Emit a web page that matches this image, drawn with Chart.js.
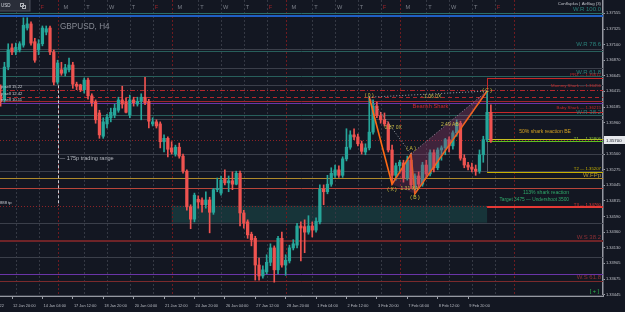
<!DOCTYPE html>
<html>
<head>
<meta charset="utf-8">
<script src="https://cdn.jsdelivr.net/npm/chart.js@4.4.1/dist/chart.umd.min.js"></script>
<style>
html,body{margin:0;padding:0;background:#131722;overflow:hidden;}
canvas{display:block;}
</style>
</head>
<body>
<canvas id="c" width="625" height="312"></canvas>
<script>
// ---------- DATA (GBPUSD H4) ----------
const candleOpen = [1.3636,1.3629,1.3677,1.3705,1.3699,1.3702,1.3709,1.3734,1.3740,1.3714,
1.3702,1.3711,1.3728,1.3734,1.3699,1.3655,1.3673,1.3668,1.3673,1.3680,
1.3652,1.3651,1.3644,1.3658,1.3635,1.3626,1.3610,1.3576,1.3594,1.3603,
1.3607,1.3614,1.3629,1.3626,1.3607,1.3629,1.3623,1.3627,1.3633,1.3627,
1.3594,1.3597,1.3594,1.3568,1.3573,1.3559,1.3550,1.3560,1.3547,1.3525,
1.3473,1.3455,1.3484,1.3483,1.3476,1.3483,1.3465,1.3498,1.3493,1.3514,
1.3508,1.3511,1.3506,1.3522,1.3464,1.3451,1.3433,1.3427,1.3388,1.3372,
1.3378,1.3392,1.3413,1.3381,1.3427,1.3388,1.3394,1.3413,1.3417,1.3445,
1.3444,1.3436,1.3445,1.3439,1.3451,1.3499,1.3495,1.3506,1.3519,1.3527,
1.3519,1.3543,1.3560,1.3578,1.3575,1.3565,1.3553,1.3559,1.3582,1.3620,
1.3606,1.3600,1.3594,1.3556,1.3519,1.3533,1.3537,1.3515,1.3541,1.3500,
1.3518,1.3506,1.3534,1.3521,1.3552,1.3530,1.3556,1.3559,1.3571,1.3562,
1.3581,1.3595,1.3544,1.3534,1.3531,1.3528,1.3525,1.3549,1.3571,1.3611];
const candleHigh = [1.3651,1.3684,1.3711,1.3711,1.3712,1.3714,1.3749,1.3749,1.3743,1.3719,
1.3717,1.3737,1.3737,1.3737,1.3702,1.3687,1.3684,1.3681,1.3690,1.3684,
1.3655,1.3652,1.3661,1.3661,1.3638,1.3629,1.3614,1.3603,1.3608,1.3617,
1.3623,1.3633,1.3649,1.3632,1.3636,1.3633,1.3633,1.3638,1.3662,1.3630,
1.3603,1.3600,1.3597,1.3578,1.3575,1.3568,1.3563,1.3566,1.3550,1.3527,
1.3476,1.3493,1.3489,1.3486,1.3495,1.3487,1.3500,1.3515,1.3518,1.3527,
1.3518,1.3524,1.3525,1.3525,1.3468,1.3454,1.3436,1.3430,1.3398,1.3387,
1.3403,1.3419,1.3416,1.3430,1.3436,1.3403,1.3417,1.3425,1.3449,1.3451,
1.3454,1.3460,1.3451,1.3457,1.3505,1.3505,1.3519,1.3530,1.3534,1.3533,
1.3546,1.3587,1.3584,1.3587,1.3579,1.3569,1.3565,1.3633,1.3629,1.3626,
1.3611,1.3610,1.3597,1.3563,1.3537,1.3541,1.3541,1.3547,1.3550,1.3521,
1.3524,1.3538,1.3541,1.3556,1.3556,1.3559,1.3562,1.3573,1.3575,1.3584,
1.3600,1.3598,1.3549,1.3538,1.3537,1.3534,1.3556,1.3576,1.3642,1.3622];
const candleLow = [1.3620,1.3626,1.3673,1.3695,1.3695,1.3699,1.3706,1.3731,1.3709,1.3684,
1.3695,1.3708,1.3724,1.3695,1.3651,1.3652,1.3665,1.3664,1.3670,1.3646,
1.3644,1.3641,1.3639,1.3630,1.3620,1.3595,1.3573,1.3573,1.3588,1.3597,
1.3603,1.3611,1.3617,1.3610,1.3603,1.3620,1.3620,1.3600,1.3622,1.3588,
1.3591,1.3588,1.3559,1.3553,1.3546,1.3550,1.3547,1.3544,1.3522,1.3468,
1.3441,1.3451,1.3471,1.3465,1.3471,1.3435,1.3462,1.3495,1.3490,1.3505,
1.3495,1.3498,1.3505,1.3445,1.3442,1.3427,1.3416,1.3366,1.3366,1.3369,
1.3375,1.3387,1.3363,1.3375,1.3385,1.3373,1.3391,1.3410,1.3413,1.3394,
1.3406,1.3433,1.3429,1.3436,1.3448,1.3476,1.3492,1.3503,1.3516,1.3516,
1.3516,1.3540,1.3557,1.3571,1.3562,1.3550,1.3549,1.3556,1.3579,1.3603,
1.3595,1.3591,1.3553,1.3506,1.3512,1.3524,1.3509,1.3512,1.3500,1.3492,
1.3500,1.3503,1.3515,1.3518,1.3524,1.3527,1.3541,1.3549,1.3553,1.3557,
1.3576,1.3541,1.3530,1.3527,1.3524,1.3519,1.3522,1.3538,1.3568,1.3567];
const candleClose = [1.3629,1.3677,1.3702,1.3699,1.3706,1.3711,1.3738,1.3740,1.3712,1.3687,
1.3711,1.3734,1.3733,1.3699,1.3655,1.3683,1.3668,1.3676,1.3680,1.3652,
1.3649,1.3644,1.3658,1.3635,1.3625,1.3600,1.3578,1.3597,1.3604,1.3611,
1.3617,1.3629,1.3623,1.3611,1.3629,1.3625,1.3627,1.3633,1.3625,1.3598,
1.3597,1.3591,1.3568,1.3573,1.3557,1.3553,1.3560,1.3547,1.3525,1.3473,
1.3455,1.3490,1.3480,1.3476,1.3483,1.3465,1.3498,1.3500,1.3512,1.3508,
1.3511,1.3506,1.3522,1.3464,1.3449,1.3432,1.3425,1.3388,1.3372,1.3381,
1.3392,1.3413,1.3381,1.3427,1.3388,1.3395,1.3413,1.3419,1.3445,1.3442,
1.3436,1.3445,1.3439,1.3452,1.3499,1.3495,1.3506,1.3522,1.3527,1.3519,
1.3543,1.3560,1.3578,1.3575,1.3565,1.3554,1.3559,1.3582,1.3620,1.3606,
1.3600,1.3594,1.3556,1.3519,1.3533,1.3538,1.3515,1.3541,1.3505,1.3518,
1.3506,1.3534,1.3521,1.3552,1.3530,1.3556,1.3559,1.3571,1.3562,1.3581,
1.3595,1.3544,1.3534,1.3531,1.3528,1.3525,1.3549,1.3571,1.3611,1.3570];

// x-axis labels (candle index of each label)
const timeTickIdx = [-5,3,11,19,27,35,43,51,59,67,75,83,91,99,107,115,123];
const timeLabels = ['11 Jan 2022','12 Jan 20:00','14 Jan 04:00','17 Jan 12:00','18 Jan 20:00','20 Jan 04:00','21 Jan 12:00',
  '24 Jan 20:00','26 Jan 04:00','27 Jan 12:00','28 Jan 20:00','1 Feb 04:00','2 Feb 12:00','3 Feb 20:00',
  '7 Feb 04:00','8 Feb 12:00','9 Feb 20:00'];
// y-axis labels
const priceTicks = [1.37555,1.37325,1.37100,1.36870,1.36645,1.36415,1.36185,1.35960,1.35730,1.35500,
  1.35275,1.35045,1.34815,1.34590,1.34360,1.34130,1.33905,1.33675,1.33445];
const lastPrice = 1.35700;

// day starts / letters, week ends
const dayIdx = [4,10,16,22,28,34,40,46,52,58,64,70,76,82,88,94,100,106,112,118,124,130];
const dayLetters = ['T','F','M','T','W','T','F','M','T','W','T','F','M','T','W','T','F','M','T','W','T','F'];
const weekEndIdx = [15,45,75,105,135];

// harmonic pattern 0-X-A-B-C
const patternIdx = [97,103,108,109,128];
const patternPrice = [1.3633,1.3506,1.3550,1.3492,1.3642];
const patternNames = ['( 0 )','( X )','( A )','( B )','( C )'];

// horizontal levels (full width)
const levelPrice = [1.37555,1.37516,1.37034,1.37009,1.36761,1.36640,1.36504,1.36440,1.36333,1.36268,1.36250,
  1.36066,1.36008,1.35705,1.35500,1.35253,1.35146,1.35000,1.34746,1.34498,1.34224,1.33993,1.33745,1.33647,1.33443];
// right-side target levels (from C onward)
const targetPrice = [1.36612,1.36114,1.35715,1.35693,1.35238,1.34727];
// zone box
const zoneIdx = [45,128];
const zonePrice = [1.34746,1.34498];
// trading range marker
const rangeIdx = 15;
const rangePrice = [1.36504,1.34746];
</script>
<script>
const UP = '#26a69a', DOWN = '#ef5350';
const idx = candleOpen.map((_, i) => i);
const cColors = idx.map(i => candleClose[i] >= candleOpen[i] ? UP : DOWN);

const levelStyle = [
  ['#2b6f6b',1,[]],['#1f5fc4',2,[]],['#3b3f4a',1,[]],['#285f5b',1,[]],['#3b3f4a',1,[]],['#285f5b',1,[]],
  ['#3b3f4a',1,[]],['#b3262b',1,[5,2,1,2]],['#b3262b',1,[4,3]],['#a0262b',1,[]],['#6a35a8',1,[]],
  ['#285f5b',1,[]],['#3b3f4a',1,[]],['#8e2226',1,[1,2]],['#3b3f4a',1,[]],['#3b3f4a',1,[]],
  ['#b08a2a',1,[]],['#b8453a',1,[]],['#8e2226',1,[1,2]],['#3b3f4a',1,[]],['#6e2428',2,[]],
  ['#3b3f4a',1,[]],['#6a35a8',1,[]],['#7a2a2c',1,[]],['#3b3f4a',1,[]]
];
const targetStyle = [['#c62828',1],['#c62828',1],['#c8c020',1],['#5cc020',1],['#c8b000',1],['#e53935',2]];

const FONT = '"Liberation Sans", Arial, sans-serif';

const overlay = {
  id: 'overlay',
  beforeDatasetsDraw(chart) {
    const {ctx, chartArea: a, scales} = chart;
    const X = v => scales.x.getPixelForValue(v);
    const Y = v => scales.y.getPixelForValue(v);
    ctx.save();
    ctx.beginPath(); ctx.rect(a.left, a.top, a.right - a.left, a.bottom - a.top); ctx.clip();
    // zone
    ctx.fillStyle = 'rgba(32,100,94,0.38)';
    ctx.fillRect(X(zoneIdx[0]), Y(zonePrice[0]), X(zoneIdx[1]) - X(zoneIdx[0]), Y(zonePrice[1]) - Y(zonePrice[0]));
    // day separators
    ctx.lineWidth = 1;
    ctx.setLineDash([2, 2]);
    dayIdx.forEach((d, k) => {
      if (dayLetters[k] === 'M') return;
      const px = Math.round(X(d)) + 0.5;
      ctx.strokeStyle = '#353944';
      ctx.beginPath(); ctx.moveTo(px, a.top); ctx.lineTo(px, a.bottom); ctx.stroke();
    });
    weekEndIdx.forEach(d => {
      const px = Math.round(X(d)) + 0.5;
      ctx.strokeStyle = '#6e1b20';
      ctx.beginPath(); ctx.moveTo(px, a.top); ctx.lineTo(px, a.bottom); ctx.stroke();
    });
    // levels
    levelPrice.forEach((p, k) => {
      const [col, w, dash] = levelStyle[k];
      const py = w % 2 ? Math.round(Y(p)) + 0.5 : Math.round(Y(p));
      ctx.strokeStyle = col; ctx.lineWidth = w; ctx.setLineDash(dash);
      ctx.beginPath(); ctx.moveTo(a.left, py); ctx.lineTo(a.right, py); ctx.stroke();
    });
    ctx.setLineDash([]);
    // right-side targets
    const xc = X(patternIdx[4]);
    targetPrice.forEach((p, k) => {
      const [col, w] = targetStyle[k];
      const py = w % 2 ? Math.round(Y(p)) + 0.5 : Math.round(Y(p));
      ctx.strokeStyle = col; ctx.lineWidth = w;
      ctx.beginPath(); ctx.moveTo(xc, py); ctx.lineTo(a.right, py); ctx.stroke();
    });
    // PRZ box vertical
    ctx.strokeStyle = '#c62828'; ctx.lineWidth = 1;
    ctx.beginPath(); ctx.moveTo(Math.round(xc) + 0.5, Y(targetPrice[0])); ctx.lineTo(Math.round(xc) + 0.5, Y(targetPrice[1])); ctx.stroke();
    ctx.strokeStyle = '#5a5e68';
    ctx.beginPath(); ctx.moveTo(Math.round(xc) + 0.5, Y(targetPrice[3])); ctx.lineTo(Math.round(xc) + 0.5, Y(targetPrice[4])); ctx.stroke();
    // trading range dashed line
    ctx.strokeStyle = '#c9ccd3'; ctx.setLineDash([3, 2]);
    const rx = Math.round(X(rangeIdx)) + 0.5;
    ctx.beginPath(); ctx.moveTo(rx, Y(rangePrice[0])); ctx.lineTo(rx, Y(rangePrice[1])); ctx.stroke();
    ctx.setLineDash([]);
    ctx.restore();
  },
  afterDatasetsDraw(chart) {
    const {ctx, chartArea: a, scales} = chart;
    const X = v => scales.x.getPixelForValue(v);
    const Y = v => scales.y.getPixelForValue(v);
    const txt = (s, x, yv, col, size, align, bold) => {
      ctx.font = (bold ? 'bold ' : '') + size + 'px ' + FONT;
      ctx.fillStyle = col; ctx.textAlign = align || 'left'; ctx.textBaseline = 'middle';
      ctx.fillText(s, x, yv);
    };
    ctx.save();
    // day letters
    dayIdx.forEach((d, k) => {
      txt(dayLetters[k], X(d) + 2, 7, dayLetters[k] === 'F' ? '#9b2228' : '#7c808a', 5.6, 'left');
    });
    // symbol box
    ctx.fillStyle = '#2a2e39'; ctx.fillRect(0, 0, 30, 11);
    ctx.strokeStyle = '#4a4f5b'; ctx.lineWidth = 1; ctx.strokeRect(-0.5, -0.5, 30.5, 11.5);
    txt('USD', 1, 6, '#d1d4dc', 4.5, 'left');
    ctx.strokeStyle = '#b0b3ba'; ctx.strokeRect(20.5, 3.5, 3, 3); ctx.strokeRect(22.5, 5.5, 3, 3);
    // title
    txt('GBPUSD, H4', 60, 26.5, '#868a94', 8.2, 'left');
    txt('Confluplus | AirBag (3)', 601, 4, '#c0c3ca', 4.3, 'right');
    // left labels
    txt('p sell 15.22', 1, 87.3, '#c9ccd3', 4.2, 'left');
    txt('p sell 12.42', 1, 94, '#c9ccd3', 4.2, 'left');
    txt('p sell 10.11', 1, 99.4, '#c9ccd3', 4.2, 'left');
    txt('888 tp', 0, 202.7, '#c9ccd3', 4.2, 'left');
    txt('\u2014 175p trading range', X(rangeIdx) + 2, Y(1.3544), '#b4b8c0', 5.6, 'left');
    // level labels (right)
    const R = a.right - 2;
    txt('W.R 100.0', R, Y(1.37613), '#2a807a', 6, 'right');
    txt('W.R 78.6', R, Y(1.37107), '#2a807a', 6, 'right');
    txt('W.R 61.8', R, Y(1.36698), '#2a807a', 6, 'right');
    txt('PRZ \u2014 1.36612', R, Y(1.36654), '#c62828', 4.3, 'right');
    txt('Mommy Shark \u2014 1.36456', R, Y(1.36501), '#c62828', 4.3, 'right');
    txt('Baby Shark \u2014 1.36215', R, Y(1.36172), '#c62828', 4.3, 'right');
    txt('W.R 38.2', R, Y(1.36114), '#2a807a', 6, 'right');
    txt('50% shark reaction BE', 571, Y(1.35822), '#d4a020', 5.1, 'right');
    txt('T1 \u2014 1.35806', R, Y(1.35725), '#8cc83a', 4.3, 'right');
    txt('T2 \u2014 1.35207', R, Y(1.35282), '#c8b400', 4.3, 'right');
    txt('W.FPp', R, Y(1.35194), '#b89a30', 6, 'right');
    txt('113% shark reaction', 569, Y(1.34931), '#2fa86a', 5.1, 'right');
    txt('Target 3475 \u2014 Undershoot 3500', 569, Y(1.34829), '#2fa86a', 4.8, 'right');
    txt('T3 \u2014 1.34760', R, Y(1.34756), '#e53935', 4.3, 'right');
    txt('W.S 38.2', R, Y(1.34284), '#8e3036', 6, 'right');
    txt('W.S 61.8', R, Y(1.33700), '#8e3036', 6, 'right');
    txt('[ + ]', 599, Y(1.33500), '#2fbf50', 5.5, 'right');
    // pattern labels
    const yel = '#cfc23a';
    txt(patternNames[0], X(patternIdx[0]), Y(patternPrice[0]) - 2, yel, 5, 'center');
    txt(patternNames[1], X(patternIdx[1]), Y(patternPrice[1]) + 5, yel, 5, 'center');
    txt(patternNames[2], X(patternIdx[2]), Y(patternPrice[2]) - 5, yel, 5, 'center');
    txt(patternNames[3], X(patternIdx[3]), Y(patternPrice[3]) + 4, yel, 5, 'center');
    txt(patternNames[4], X(patternIdx[4]), Y(patternPrice[4]), yel, 5, 'center');
    txt('0.87 0X', X(103.3), Y(1.3589), '#c8bb48', 5, 'center');
    txt('1.31 XA', X(105.2), Y(1.3499), '#c8bb48', 5, 'left');
    txt('2.49 AB', X(118.2), Y(1.3593), '#c8bb48', 5, 'center');
    txt('- 1.06 0X', X(113.3), Y(1.3634), '#c8bb48', 5, 'center');
    txt('Bearish Shark', X(113.1), Y(1.3619), '#c8262c', 5.7, 'center');
    ctx.restore();
  },
  afterDraw(chart) {
    const {ctx, chartArea: a, scales} = chart;
    const py = scales.y.getPixelForValue(lastPrice);
    ctx.save();
    ctx.fillStyle = '#e6e8ec';
    ctx.fillRect(a.right + 1, Math.round(py) - 4, 21, 8);
    ctx.font = '4.3px ' + FONT; ctx.fillStyle = '#131722'; ctx.textBaseline = 'middle'; ctx.textAlign = 'left';
    ctx.fillText(lastPrice.toFixed(5), a.right + 3, py);
    ctx.restore();
  }
};

const bgPlugin = {
  id: 'bg',
  beforeDraw(chart) {
    const {ctx, width, height} = chart;
    ctx.save(); ctx.fillStyle = '#131722'; ctx.fillRect(0, 0, width, height); ctx.restore();
  }
};

const pts = patternIdx.map((v, i) => ({x: v, y: patternPrice[i]}));
new Chart(document.getElementById('c'), {
  type: 'bar',
  data: {
    datasets: [
      { type: 'line', data: [pts[2], pts[3], pts[4], pts[2]], borderWidth: 0, borderColor: 'rgba(0,0,0,0)',
        backgroundColor: 'rgba(150,60,110,0.35)', fill: 'shape', pointRadius: 0, order: 0 },
      { type: 'line', data: [pts[1], pts[2], pts[3], pts[1]], borderWidth: 0, borderColor: 'rgba(0,0,0,0)',
        backgroundColor: 'rgba(150,60,110,0.25)', fill: 'shape', pointRadius: 0, order: 0 },
      { type: 'line', data: [pts[0], pts[2]], borderColor: '#9da2ab', borderWidth: 1, borderDash: [1, 2], pointRadius: 0, order: 1 },
      { type: 'line', data: [pts[2], pts[4]], borderColor: '#9da2ab', borderWidth: 1, borderDash: [1, 2], pointRadius: 0, order: 1 },
      { type: 'line', data: [pts[0], pts[4]], borderColor: '#9da2ab', borderWidth: 1, borderDash: [1, 2], pointRadius: 0, order: 1 },
      { type: 'line', data: pts, borderColor: '#ff6a14', borderWidth: 1.6, pointRadius: 0, tension: 0, order: 1 },
      { type: 'bar', data: idx.map(i => ({x: i, y: [candleLow[i], candleHigh[i]]})), backgroundColor: cColors,
        barThickness: 1, grouped: false, order: 3 },
      { type: 'bar', data: idx.map(i => ({x: i, y: [candleOpen[i], candleClose[i]]})), backgroundColor: cColors,
        barThickness: 2.6, minBarLength: 1, grouped: false, order: 2 }
    ]
  },
  options: {
    responsive: false, animation: false, devicePixelRatio: 1,
    layout: { padding: 0 },
    plugins: { legend: { display: false }, tooltip: { enabled: false } },
    scales: {
      x: {
        type: 'linear', min: -0.16, max: 158.5, offset: false, position: 'bottom',
        grid: { display: true, drawOnChartArea: false, drawTicks: true, tickLength: 3, color: '#9a9ea7', offset: false },
        border: { display: true, color: '#9598a1', width: 2 },
        ticks: { align: 'start', color: '#b8bbc3', font: { size: 3.9, family: FONT }, padding: 5, maxRotation: 0, autoSkip: false,
          callback: v => { const k = timeTickIdx.indexOf(v); return k >= 0 ? ' ' + timeLabels[k] : ''; } },
        afterBuildTicks: s => { s.ticks = timeTickIdx.map(v => ({ value: v })); },
        afterFit: s => { s.height = 16; s.paddingLeft = 0; s.paddingRight = 0; }
      },
      y: {
        type: 'linear', position: 'right', min: 1.33428, max: 1.37749,
        grid: { display: true, drawOnChartArea: false, drawTicks: true, tickLength: 2, color: '#9a9ea7' },
        border: { display: true, color: '#9598a1', width: 1.5 },
        ticks: { color: '#c0c3ca', font: { size: 4, family: FONT }, padding: 1,
          callback: v => v.toFixed(5) },
        afterBuildTicks: s => { s.ticks = priceTicks.map(v => ({ value: v })); },
        afterFit: s => { s.width = 22; s.paddingTop = 0; s.paddingBottom = 0; }
      }
    }
  },
  plugins: [bgPlugin, overlay]
});
</script>
</body>
</html>
